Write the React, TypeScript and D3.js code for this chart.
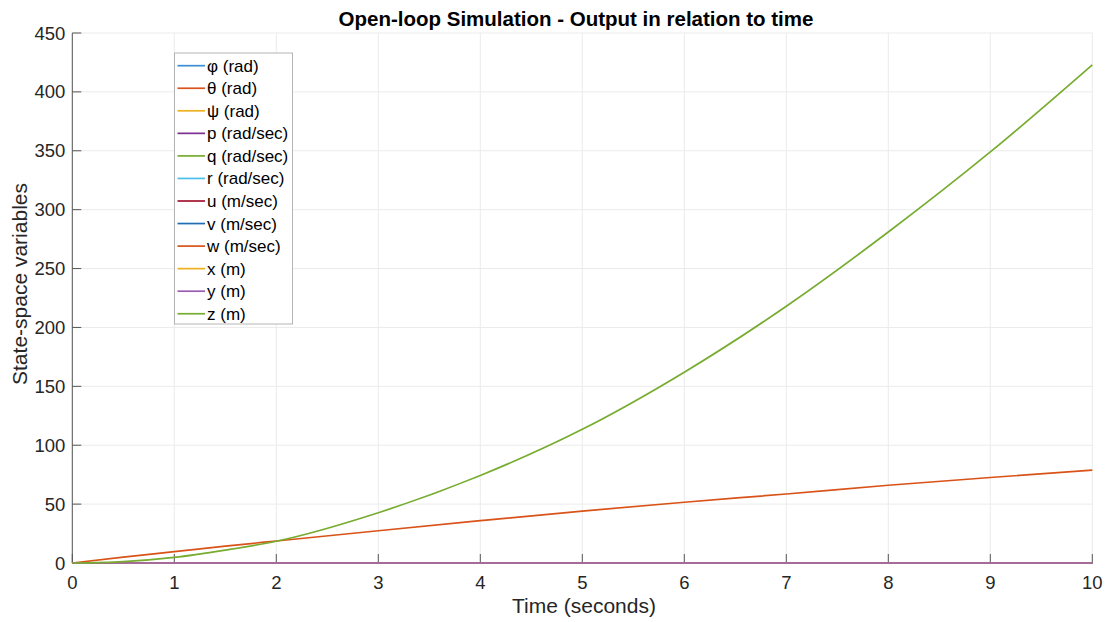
import React from "react";
import * as d3 from "d3";

// Simulation time samples (seconds)
const times = [0, 0.5, 1, 1.5, 2, 3, 4, 5, 6, 7, 8, 9, 10];

// Non-zero state trajectories
const wValues = [0, 5.0, 9.6, 14.3, 18.7, 27.4, 35.9, 44.1, 51.6, 58.6, 66.0, 72.6, 78.8];
const zValues = [0, 1.2, 4.8, 11.0, 18.5, 42.7, 74.3, 113.5, 162, 218, 281, 349, 423];
const zeroValues = times.map(() => 0);

// Legend labels, in plotting order
const stateNames = [
  "φ (rad)",
  "θ (rad)",
  "ψ (rad)",
  "p (rad/sec)",
  "q (rad/sec)",
  "r (rad/sec)",
  "u (m/sec)",
  "v (m/sec)",
  "w (m/sec)",
  "x (m)",
  "y (m)",
  "z (m)",
];

const stateColors = [
  "#3b8fd6",
  "#D95319",
  "#EDB120",
  "#7E2F8E",
  "#77AC30",
  "#4DBEEE",
  "#A2142F",
  "#1f6fb2",
  "#D95319",
  "#EDB120",
  "#9b5cb4",
  "#77AC30",
];

const stateSeries = [
  zeroValues, // φ
  zeroValues, // θ
  zeroValues, // ψ
  zeroValues, // p
  zeroValues, // q
  zeroValues, // r
  zeroValues, // u
  zeroValues, // v
  wValues, // w
  zeroValues, // x
  zeroValues, // y
  zValues, // z
];

const xTicks = [0, 1, 2, 3, 4, 5, 6, 7, 8, 9, 10];
const yTicks = [0, 50, 100, 150, 200, 250, 300, 350, 400, 450];

const W = 1108;
const H = 622;
const margin = { left: 72.3, right: 1092.3, top: 33, bottom: 563 };
const FONT = "'Liberation Sans', Arial, Helvetica, sans-serif";

export default function App() {
  const x = d3.scaleLinear().domain([0, 10]).range([margin.left, margin.right]);
  const y = d3.scaleLinear().domain([0, 450]).range([margin.bottom, margin.top]);

  const line = d3
    .line<number>()
    .x((_, i) => x(times[i]))
    .y((v) => y(v))
    .curve(d3.curveMonotoneX);

  const legendX = 174.5;
  const legendY = 53;
  const legendW = 118;
  const legendH = 271;
  const rowH = 22.55;

  return (
    <svg
      width={W}
      height={H}
      style={{ position: "absolute", left: 0, top: 0, background: "#fff" }}
      fontFamily={FONT}
    >
      <rect x={0} y={0} width={W} height={H} fill="#fff" />

      {/* grid */}
      <g stroke="#ebebeb" strokeWidth={1}>
        {xTicks.map((t) => (
          <line key={"gx" + t} x1={x(t)} x2={x(t)} y1={margin.top} y2={margin.bottom} />
        ))}
        {yTicks.map((t) => (
          <line key={"gy" + t} x1={margin.left} x2={margin.right} y1={y(t)} y2={y(t)} />
        ))}
      </g>

      {/* axes */}
      <g stroke="#555" strokeWidth={1}>
        <line x1={margin.left} x2={margin.left} y1={margin.top} y2={margin.bottom} />
        <line x1={margin.left} x2={margin.right} y1={margin.bottom} y2={margin.bottom} />
        {xTicks.map((t) => (
          <line key={"tx" + t} x1={x(t)} x2={x(t)} y1={margin.bottom} y2={margin.bottom - 9} />
        ))}
        {yTicks.map((t) => (
          <line key={"ty" + t} x1={margin.left} x2={margin.left + 9} y1={y(t)} y2={y(t)} />
        ))}
      </g>

      {/* series */}
      <g fill="none" strokeWidth={1.7}>
        {stateSeries.map((vals, i) => (
          <path key={"s" + i} d={line(vals) || ""} stroke={stateColors[i]} />
        ))}
      </g>

      {/* tick labels */}
      <g fill="#262626" fontSize={18.5}>
        {xTicks.map((t) => (
          <text key={"lx" + t} x={x(t)} y={margin.bottom + 26} textAnchor="middle">
            {t}
          </text>
        ))}
        {yTicks.map((t) => (
          <text key={"ly" + t} x={margin.left - 7} y={y(t) + 6.5} textAnchor="end">
            {t}
          </text>
        ))}
      </g>

      {/* axis titles */}
      <text x={584} y={613} textAnchor="middle" fontSize={21} fill="#262626">
        Time (seconds)
      </text>
      <text
        transform={`translate(27,${284}) rotate(-90)`}
        textAnchor="middle"
        fontSize={21}
        fill="#262626"
      >
        State-space variables
      </text>
      <text x={576} y={25.5} textAnchor="middle" fontSize={20.5} fontWeight="bold" fill="#000">
        Open-loop Simulation - Output in relation to time
      </text>

      {/* legend */}
      <g>
        <rect
          x={legendX}
          y={legendY}
          width={legendW}
          height={legendH}
          fill="#fff"
          stroke="#b5b5b5"
          strokeWidth={1}
        />
        {stateNames.map((name, i) => {
          const cy = legendY + 12.7 + i * rowH;
          return (
            <g key={"lg" + i}>
              <line
                x1={legendX + 3}
                x2={legendX + 30.5}
                y1={cy}
                y2={cy}
                stroke={stateColors[i]}
                strokeWidth={1.7}
              />
              <text x={legendX + 32.5} y={cy + 6} fontSize={17} fill="#000">
                {name}
              </text>
            </g>
          );
        })}
      </g>
    </svg>
  );
}
